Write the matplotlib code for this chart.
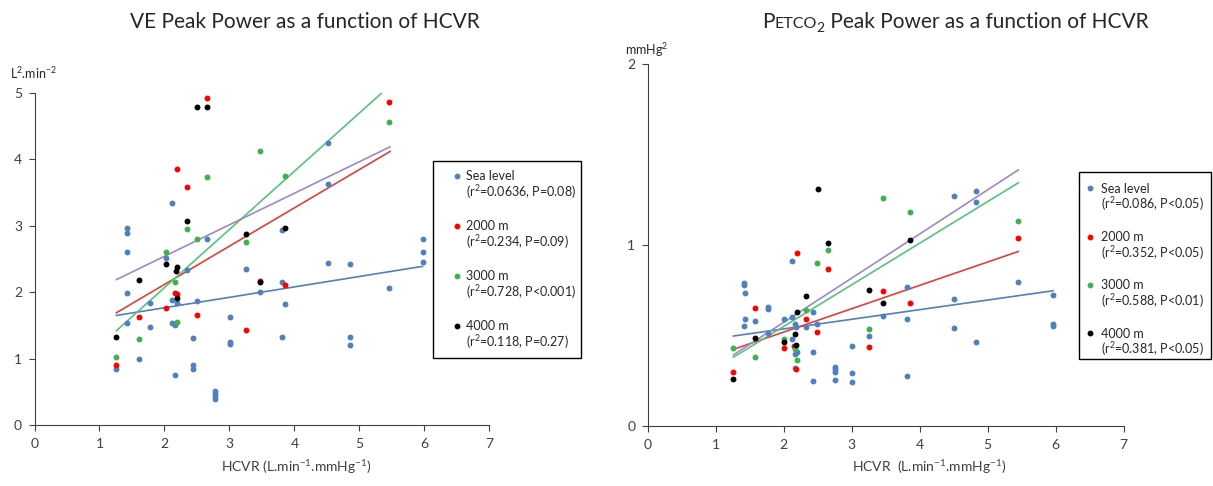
import matplotlib
matplotlib.use("Agg")
import matplotlib.pyplot as plt
from matplotlib.lines import Line2D
from matplotlib.patches import Rectangle

plt.rcParams['font.family'] = ['Lato', 'DejaVu Sans']
plt.rcParams['mathtext.default'] = 'regular'

W, H = 1213, 486

# ---- datos: VE peak power (L2.min-2) vs HCVR ----
sea_ve_x = [1.26, 1.42, 1.42, 1.42, 1.42, 1.42, 1.60, 1.78, 1.78, 2.02, 2.12, 2.12, 2.12, 2.16, 2.16,
            2.20, 2.34, 2.44, 2.44, 2.44, 2.50, 2.65, 2.77, 2.77, 2.77, 2.77, 3.01, 3.01, 3.01, 3.25,
            3.47, 3.81, 3.81, 3.81, 3.86, 4.52, 4.52, 4.52, 4.85, 4.85, 4.85, 5.45, 5.97, 5.97, 5.97]
sea_ve_y = [0.84, 2.97, 2.89, 2.60, 1.99, 1.54, 1.00, 1.83, 1.47, 2.51, 3.34, 1.89, 1.53, 1.51, 0.76,
            1.83, 2.34, 1.31, 0.91, 0.84, 1.87, 2.80, 0.51, 0.47, 0.43, 0.39, 1.62, 1.25, 1.22, 2.35,
            2.01, 2.93, 2.15, 1.33, 1.82, 4.25, 3.63, 2.44, 2.42, 1.33, 1.21, 2.07, 2.80, 2.61, 2.46]
m2000_ve_x = [1.26, 1.60, 2.02, 2.16, 2.20, 2.20, 2.34, 2.50, 2.65, 3.25, 3.47, 3.86, 5.45]
m2000_ve_y = [0.90, 1.62, 1.76, 1.99, 1.98, 3.85, 3.58, 1.66, 4.92, 1.43, 2.17, 2.11, 4.87]
m3000_ve_x = [1.26, 1.60, 2.02, 2.16, 2.20, 2.34, 2.50, 2.65, 3.25, 3.47, 3.86, 5.45]
m3000_ve_y = [1.02, 1.29, 2.61, 2.15, 1.55, 2.95, 2.80, 3.73, 2.76, 4.13, 3.75, 4.57]
m4000_ve_x = [1.26, 1.60, 2.02, 2.17, 2.20, 2.20, 2.34, 2.50, 2.65, 3.25, 3.47, 3.86]
m4000_ve_y = [1.33, 2.19, 2.43, 2.32, 2.38, 1.92, 3.07, 4.79, 4.79, 2.88, 2.15, 2.97]

# rectas de tendencia (pendiente, ordenada, rango x)
ve_pend = [0.157, 0.577, 0.877, 0.475]
ve_ord = [1.452, 0.963, 0.315, 1.591]
ve_rango = [(1.26, 5.97), (1.26, 5.47), (1.26, 5.45), (1.26, 5.47)]
ve_stats = ["(r$^2$=0.0636, P=0.08)", "(r$^2$=0.234, P=0.09)",
            "(r$^2$=0.728, P<0.001)", "(r$^2$=0.118, P=0.27)"]

# ---- datos: PETCO2 peak power (mmHg2) vs HCVR ----
sea_pet_x = [1.41, 1.41, 1.43, 1.43, 1.41, 1.58, 1.77, 1.77, 1.77, 2.00, 2.12, 2.12, 2.12, 2.17, 2.18,
             2.17, 2.20, 2.16, 2.33, 2.43, 2.43, 2.43, 2.49, 2.76, 2.76, 2.76, 2.76, 3.01, 3.01, 3.01,
             3.25, 3.46, 3.82, 3.82, 3.82, 4.51, 4.51, 4.51, 4.83, 4.83, 4.83, 5.44, 5.96, 5.96, 5.96]
sea_pet_y = [0.79, 0.78, 0.736, 0.593, 0.55, 0.58, 0.66, 0.648, 0.515, 0.593, 0.91, 0.60, 0.479, 0.563, 0.545,
             0.396, 0.409, 0.322, 0.549, 0.63, 0.407, 0.25, 0.563, 0.324, 0.313, 0.298, 0.256, 0.442, 0.291, 0.241,
             0.50, 0.608, 0.766, 0.593, 0.278, 1.27, 0.70, 0.543, 1.30, 1.24, 0.464, 0.794, 0.724, 0.562, 0.554]
m2000_pet_x = [1.26, 1.58, 2.00, 2.15, 2.18, 2.20, 2.33, 2.49, 2.65, 3.25, 3.46, 3.86, 5.44]
m2000_pet_y = [0.30, 0.652, 0.429, 0.442, 0.315, 0.957, 0.593, 0.52, 0.866, 0.435, 0.744, 0.678, 1.04]
m3000_pet_x = [1.26, 1.58, 2.00, 2.16, 2.20, 2.33, 2.49, 2.65, 3.25, 3.46, 3.86, 5.44]
m3000_pet_y = [0.429, 0.38, 0.479, 0.427, 0.365, 0.64, 0.90, 0.97, 0.536, 1.26, 1.18, 1.13]
m4000_pet_x = [1.26, 1.58, 2.00, 2.16, 2.18, 2.20, 2.33, 2.50, 2.65, 3.25, 3.46, 3.86]
m4000_pet_y = [0.261, 0.484, 0.464, 0.507, 0.449, 0.631, 0.716, 1.31, 1.01, 0.75, 0.68, 1.03]

pet_pend = [0.0532, 0.129, 0.230, 0.244]
pet_ord = [0.430, 0.261, 0.090, 0.085]
pet_rango = [(1.26, 5.96), (1.26, 5.45), (1.26, 5.45), (1.26, 5.45)]
pet_stats = ["(r$^2$=0.086, P<0.05)", "(r$^2$=0.352, P<0.05)",
             "(r$^2$=0.588, P<0.01)", "(r$^2$=0.381, P<0.05)"]

grupos = ["Sea level", "2000 m", "3000 m", "4000 m"]
col_punto = ['#4f81bd', '#ff0000', '#3fb24f', '#000000']
col_linea = ['#4f81bd', '#e0403a', '#55c47a', '#9d89c4']
gris = '#404040'
negro = '#262626'


def estilo(ax, ymax):
    ax.set_xlim(0, 7)
    ax.set_ylim(0, ymax)
    ax.set_xticks(range(8))
    ax.set_yticks(range(ymax + 1))
    for s in ['top', 'right']:
        ax.spines[s].set_visible(False)
    for s in ['left', 'bottom']:
        ax.spines[s].set_color(gris)
    ax.tick_params(direction='out', length=4, color=gris, labelcolor=gris, labelsize=10, pad=5)


def dibujar(ax, xs, ys, pend, ord_, rango):
    for i in range(4):
        ax.scatter(xs[i], ys[i], s=18, color=col_punto[i], linewidths=0, zorder=3)
    for i in range(4):
        x0, x1 = rango[i]
        ax.plot([x0, x1], [pend[i] * x0 + ord_[i], pend[i] * x1 + ord_[i]],
                color=col_linea[i], lw=1.2, zorder=2)


def px(x, y):
    # pixeles (origen arriba a la izquierda) -> fraccion de figura
    return x / W, 1 - y / H


def leyenda(stats, caja, y_prim, paso, x_marca, x_texto):
    x0, y0, x1, y1 = caja
    fig.add_artist(Rectangle(px(x0, y1), (x1 - x0) / W, (y1 - y0) / H, transform=fig.transFigure,
                             facecolor='white', edgecolor='black', lw=1, zorder=5))
    for i in range(4):
        yc = y_prim + i * paso
        fig.add_artist(Line2D([x_marca / W], [1 - yc / H], transform=fig.transFigure, ls='',
                              marker='o', ms=3.2, color=col_punto[i], zorder=6))
        fig.text(*px(x_texto, yc + 4.3), grupos[i], fontsize=9, va='baseline', color=negro, zorder=6)
        fig.text(*px(x_texto, yc + 21), stats[i], fontsize=9, va='baseline', color=negro, zorder=6)


fig = plt.figure(figsize=(W / 100, H / 100), dpi=100)
ax1 = fig.add_axes([34.5 / W, 61 / H, 455 / W, 332 / H])
ax2 = fig.add_axes([647.7 / W, 60 / H, 476 / W, 362 / H])

estilo(ax1, 5)
estilo(ax2, 2)

dibujar(ax1, [sea_ve_x, m2000_ve_x, m3000_ve_x, m4000_ve_x],
        [sea_ve_y, m2000_ve_y, m3000_ve_y, m4000_ve_y], ve_pend, ve_ord, ve_rango)
dibujar(ax2, [sea_pet_x, m2000_pet_x, m3000_pet_x, m4000_pet_x],
        [sea_pet_y, m2000_pet_y, m3000_pet_y, m4000_pet_y], pet_pend, pet_ord, pet_rango)

leyenda(ve_stats, (433, 161, 581, 358), 176, 50, 457, 466)
leyenda(pet_stats, (1079, 172, 1211, 359), 188.3, 48.3, 1090, 1101)

# unidades y etiquetas de ejes
fig.text(*px(10, 73), "L$^2$.min$^{-2}$", fontsize=9, va='center', color=negro)
fig.text(*px(625, 50), "mmHg$^2$", fontsize=9, va='center', color=negro)
fig.text(*px(296, 467), "HCVR (L.min$^{-1}$.mmHg$^{-1}$)", fontsize=10, ha='center',
         va='center', color=gris)
fig.text(*px(929, 467), "HCVR  (L.min$^{-1}$.mmHg$^{-1}$)", fontsize=10, ha='center',
         va='center', color=gris)

# titulos
fig.canvas.draw()
r = fig.canvas.get_renderer()


def titulo(piezas, xc, yb):
    objs = []
    x = 0
    for txt, size, dy in piezas:
        t = fig.text(0, 0, txt, fontsize=size, va='baseline', ha='left', color=negro)
        objs.append((t, x, dy))
        x += t.get_window_extent(r).width
    x0 = xc - x / 2
    for t, xo, dy in objs:
        t.set_position(px(x0 + xo, yb + dy))


titulo([("VE Peak Power as a function of HCVR", 15, 0)], 305, 28)
titulo([("P", 15, 0), ("ETCO", 11.5, 0), ("2", 10, 4),
        (" Peak Power as a function of HCVR", 15, 0)], 955, 28)

fig.savefig("out.png", dpi=100)
